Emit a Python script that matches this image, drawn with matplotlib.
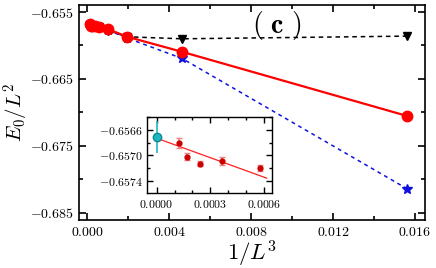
import matplotlib
matplotlib.use("Agg")
import matplotlib.pyplot as plt
from matplotlib.ticker import MultipleLocator, FuncFormatter

plt.rcParams['mathtext.fontset'] = 'cm'
plt.rcParams['font.family'] = 'serif'

# system sizes and energies per site
L = [4, 6, 8, 10, 12, 14, 16, 18, 20]
x = [1.0 / l**3 for l in L]
e_red = [-0.67055, -0.66095, -0.6587, -0.65755, -0.65720, -0.65709, -0.65713, -0.65702, -0.65681]
e_black = [-0.6586, -0.6590, -0.6587, -0.6578, -0.6573, -0.6572, -0.6572, -0.6571, -0.6569]
e_blue = [-0.68145, -0.66194, -0.6589, -0.6577, -0.6572, -0.6571, -0.6571, -0.6570, -0.6568]

# inset data
ins_x = [1/1728, 1/2744, 1/4096, 1/5832, 1/8000]
ins_y = [-0.65720, -0.65709, -0.65713, -0.65702, -0.65681]
ins_err = [0.00004, 0.00006, 0.00004, 0.00005, 0.00008]
extrap_x = [0.0]
extrap_y = [-0.65671]
extrap_err = [0.00025]
fit_x = [0.0, 0.000615]
fit_y = [-0.65673, -0.65736]


def fmt(dec):
    return FuncFormatter(lambda v, p: r'$%.*f$' % (dec, v))


fig = plt.figure(figsize=(4.36, 2.68), dpi=100)
ax = fig.add_axes([0.1805, 0.1791, 0.7943, 0.8034])

ax.plot(x, e_black, 'k--', lw=1.1, marker='v', ms=6, dashes=(3, 2.5), zorder=2)
ax.plot(x, e_blue, '--', color='#1010e0', lw=1.1, marker='*', ms=7, dashes=(2.5, 2.5), zorder=2)
ax.plot(x, e_red, '-', color='#ff0000', lw=1.6, marker='o', ms=7.5, zorder=3)

ax.set_xlim(-0.00042, 0.01649)
ax.set_ylim(-0.6861, -0.6539)
ax.xaxis.set_major_locator(MultipleLocator(0.004))
ax.xaxis.set_minor_locator(MultipleLocator(0.002))
ax.yaxis.set_major_locator(MultipleLocator(0.01, offset=0.005))
ax.yaxis.set_minor_locator(MultipleLocator(0.005))
ax.xaxis.set_major_formatter(fmt(3))
ax.yaxis.set_major_formatter(fmt(3))
ax.tick_params(which='both', direction='in', top=True, right=True, labelsize=10, width=1.2)
ax.tick_params(which='major', length=5)
ax.tick_params(which='minor', length=3)
for s in ax.spines.values():
    s.set_linewidth(1.2)
ax.set_xlabel(r'$1/L^3$', fontsize=16.5, labelpad=0)
ax.set_ylabel(r'$E_0/L^2$', fontsize=15)
ax.yaxis.set_label_coords(-0.138, 0.5)
ax.text(0.573, 0.905, r'$\mathbf{(\ c\ )}$', transform=ax.transAxes, fontsize=20,
        ha='center', va='center')

ins = fig.add_axes([0.3378, 0.281, 0.2861, 0.2836])
ins.plot(fit_x, fit_y, '-', color='#ff2020', lw=0.9)
ins.errorbar(ins_x, ins_y, yerr=ins_err, fmt='o', color='#cc0000', ecolor='#f08080',
             ms=3.5, elinewidth=1.2, capsize=2)
ins.errorbar(extrap_x, extrap_y, yerr=extrap_err, fmt='o', color='#20b8c0', ecolor='#20b8c0',
             ms=6, elinewidth=1.2, mec='#108890', zorder=4)
ins.set_xlim(-0.0000525, 0.000645)
ins.set_ylim(-0.65759, -0.65639)
ins.xaxis.set_major_locator(MultipleLocator(0.0003))
ins.xaxis.set_minor_locator(MultipleLocator(0.0001))
ins.yaxis.set_major_locator(MultipleLocator(0.0004, offset=0.0002))
ins.yaxis.set_minor_locator(MultipleLocator(0.0002))
ins.xaxis.set_major_formatter(fmt(4))
ins.yaxis.set_major_formatter(fmt(4))
ins.tick_params(which='both', direction='in', top=True, right=True, labelsize=8.5, width=1.0)
ins.tick_params(which='major', length=4)
ins.tick_params(which='minor', length=2.5)
for s in ins.spines.values():
    s.set_linewidth(1.0)

fig.savefig('out.png', dpi=100)
